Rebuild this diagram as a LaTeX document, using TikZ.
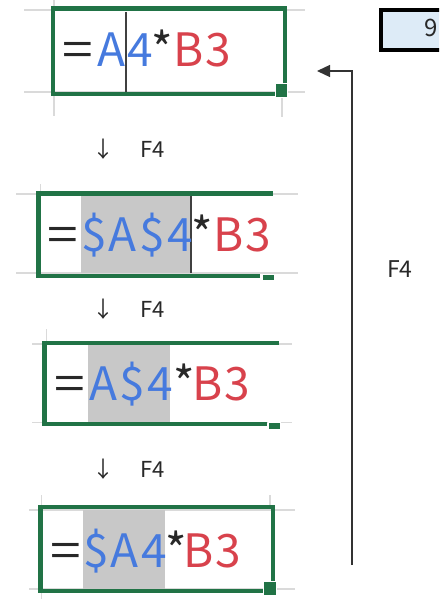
\documentclass[tikz,border=0pt]{standalone}
\usepackage{fontspec}
\setmainfont{Noto Sans CJK JP}
\newfontfamily\xlfont{Noto Sans CJK JP}[LetterSpace=5]
\usetikzlibrary{arrows.meta}
\definecolor{xlgreen}{RGB}{33,115,70}
\definecolor{refblue}{RGB}{70,122,222}
\definecolor{refred}{RGB}{216,66,76}
\definecolor{hlgray}{RGB}{200,200,200}
\definecolor{gridgray}{RGB}{218,218,218}
\definecolor{cellblue}{RGB}{221,235,247}
\definecolor{inkgray}{RGB}{40,40,40}
\tikzset{
  gridln/.style={draw=gridgray, line width=1.5pt},
  selbox/.style={draw=xlgreen, line width=4.5pt},
  fillhandle/.style={fill=xlgreen, draw=white, line width=1pt},
  hilite/.style={fill=hlgray, draw=none},
  caret/.style={draw=black!75, line width=1.5pt},
  formula/.style={anchor=base west, inner sep=0pt, font=\xlfont\fontsize{46}{50}\selectfont},
  eqsign/.style={formula, text=inkgray},
  refa/.style={formula, text=refblue},
  starsign/.style={formula, text=inkgray},
  refb/.style={formula, text=refred},
  keylbl/.style={anchor=base west, inner sep=0pt, font=\fontsize{22}{24}\selectfont, text=inkgray},
  downarrow/.style={anchor=center, inner sep=0pt, font=\fontsize{22}{24}\selectfont, text=inkgray},
  loop/.style={draw=black!80, line width=1.3pt, -{Triangle[length=13pt,width=12pt]}},
}
\newcommand{\wideeq}{\scalebox{1.2}[1]{=}}
\begin{document}
\begin{tikzpicture}[x=1pt,y=-1pt]
\useasboundingbox (0,0) rectangle (439,599);
\clip (0,0) rectangle (439,599);
% ---------- box 1 ----------
\draw[gridln] (24,10) -- (305,10);
\draw[gridln] (24,92) -- (305,92);
\draw[gridln] (54,0) -- (54,116);
\draw[gridln] (282,92) -- (282,117);
\draw[caret] (126,12) -- (126,92);
\node[eqsign] (e1) at (62,67) {\wideeq};
\node[refa] (b1) at (97,67) {A4};
\node[starsign] (s1) at (151,67) {*};
\node[refb] (r1) at (173,67) {B3};
\draw[selbox] (53,8.5) rectangle (285,94);
\draw[fillhandle] (275,84) rectangle (287,98);
% ---------- label 1 ----------
\node[downarrow] (a1) at (103,149) {↓};
\node[keylbl] (k1) at (140,157) {F4};
% ---------- box 2 ----------
\draw[gridln] (16,194) -- (298,194);
\draw[gridln] (16,273) -- (298,273);
\draw[gridln] (40.5,184) -- (40.5,194);
\fill[hilite] (81,195) rectangle (191,273);
\draw[caret] (191,195) -- (191,273);
\node[eqsign] (e2) at (47,251) {\wideeq};
\node[refa] (b2) at (81,251) {\$A\$4};
\node[starsign] (s2) at (191,251) {*};
\node[refb] (r2) at (213,251) {B3};
\draw[selbox] (273,193.3) -- (38.7,193.3) -- (38.7,276) -- (260,276);
\draw[fillhandle] (262,274) rectangle (274,280);
% ---------- label 2 ----------
\node[downarrow] (a2) at (103,309) {↓};
\node[keylbl] (k2) at (140,317) {F4};
% ---------- box 3 ----------
\draw[gridln] (32,344) -- (292,344);
\draw[gridln] (32,422.7) -- (292,422.7);
\draw[gridln] (46.7,329) -- (46.7,344);
\fill[hilite] (87.7,344) rectangle (170,421.7);
\node[eqsign] (e3) at (54,400) {\wideeq};
\node[refa] (b3) at (89,400) {A\$4};
\node[starsign] (s3) at (173,400) {*};
\node[refb] (r3) at (192,400) {B3};
\draw[selbox] (279,343) -- (44.7,343) -- (44.7,424) -- (267,424);
\draw[fillhandle] (268,422) rectangle (280,429);
% ---------- label 3 ----------
\node[downarrow] (a3) at (103,469) {↓};
\node[keylbl] (k3) at (140,477) {F4};
% ---------- box 4 ----------
\draw[gridln] (29,510) -- (295,510);
\draw[gridln] (29,589) -- (295,589);
\draw[gridln] (41.7,495) -- (41.7,599);
\draw[gridln] (270,495) -- (270,510);
\fill[hilite] (82.7,510) rectangle (165,589);
\node[eqsign] (e4) at (50,567) {\wideeq};
\node[refa] (b4) at (83,567) {\$A4};
\node[starsign] (s4) at (165,567) {*};
\node[refb] (r4) at (183,567) {B3};
\draw[selbox] (40.3,507) rectangle (273,591);
\draw[fillhandle] (263.3,581.7) rectangle (276.7,595.7);
% ---------- right side ----------
\draw[line width=4pt, fill=cellblue] (381,10) rectangle (450,50);
\node[anchor=base east, inner sep=0pt, font=\fontsize{24}{26}\selectfont, text=inkgray] (nine) at (438,37) {9};
\coordinate (loopstart) at (352,565);
\coordinate (looptip) at (317,71);
\draw[loop] (loopstart) |- (looptip);
\node[keylbl, font=\fontsize{23}{25}\selectfont] (k4) at (387,277) {F4};
\end{tikzpicture}
\end{document}
